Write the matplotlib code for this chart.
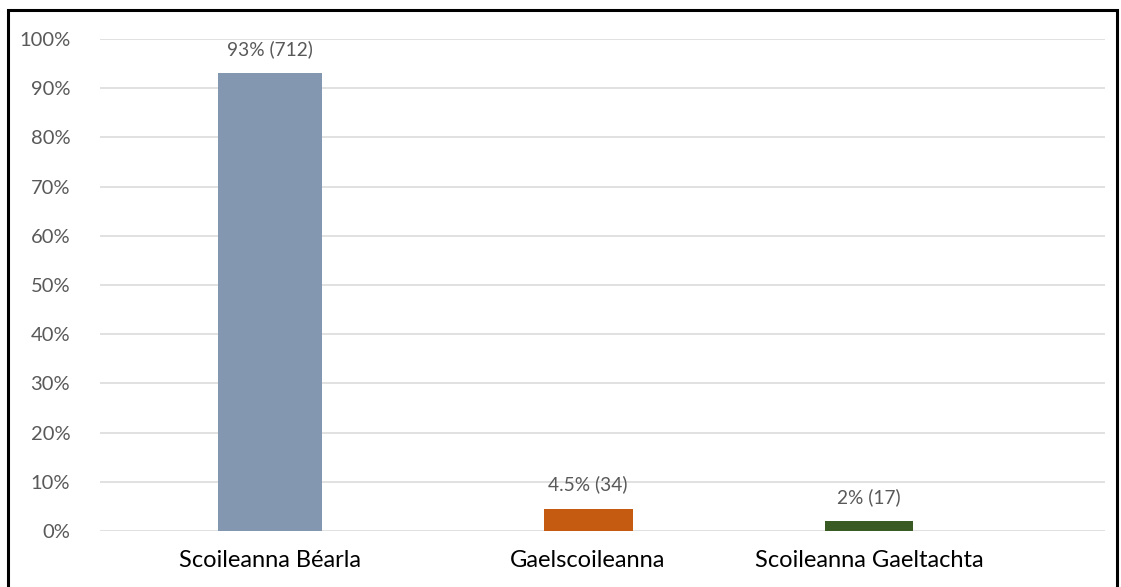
import matplotlib
matplotlib.use("Agg")
import matplotlib.pyplot as plt
from matplotlib.patches import Rectangle

categories = ["Scoileanna Béarla", "Gaelscoileanna", "Scoileanna Gaeltachta"]
percent = [93, 4.5, 2]
counts = [712, 34, 17]
value_labels = ["93% (712)", "4.5% (34)", "2% (17)"]
yticks = [0, 10, 20, 30, 40, 50, 60, 70, 80, 90, 100]

colors = ["#8497B0", "#C55A11", "#3A5A24"]
positions = [0, 1, 1.884]
widths = [0.327, 0.28, 0.277]

plt.rcParams['font.family'] = ['Lato', 'DejaVu Sans']

W, H = 1121, 587
fig = plt.figure(figsize=(W / 100, H / 100), dpi=100)
ax = fig.add_axes([100 / W, 1 - 531 / H, (1105 - 100) / W, (531 - 39) / H])

ax.bar(positions, percent, width=widths, color=colors, zorder=3)
for x, v, lab in zip(positions, percent, value_labels):
    ax.annotate(lab, (x, v), xytext=(0, 11), textcoords="offset points",
                ha="center", va="bottom", fontsize=13.8, color="#595959")

ax.set_ylim(0, 100)
ax.set_xlim(-0.535, 2.626)
ax.set_yticks(yticks)
ax.set_yticklabels([f"{t}%" for t in yticks], fontsize=14.5, color="#595959")
ax.set_xticks(positions)
ax.set_xticklabels(categories, fontsize=17, color="black")
ax.tick_params(axis="both", length=0)
ax.tick_params(axis="y", pad=21.5)
ax.tick_params(axis="x", pad=14)
ax.grid(axis="y", color="#DEDEDE", linewidth=1.3, zorder=0)
for s in ax.spines.values():
    s.set_visible(False)

fig.patches.append(Rectangle((8 / W, -0.01), (1117 - 8) / W, 1 - 10 / H + 0.01,
                             transform=fig.transFigure, fill=False,
                             edgecolor="black", linewidth=2.2))

fig.savefig("out.png", dpi=100)
